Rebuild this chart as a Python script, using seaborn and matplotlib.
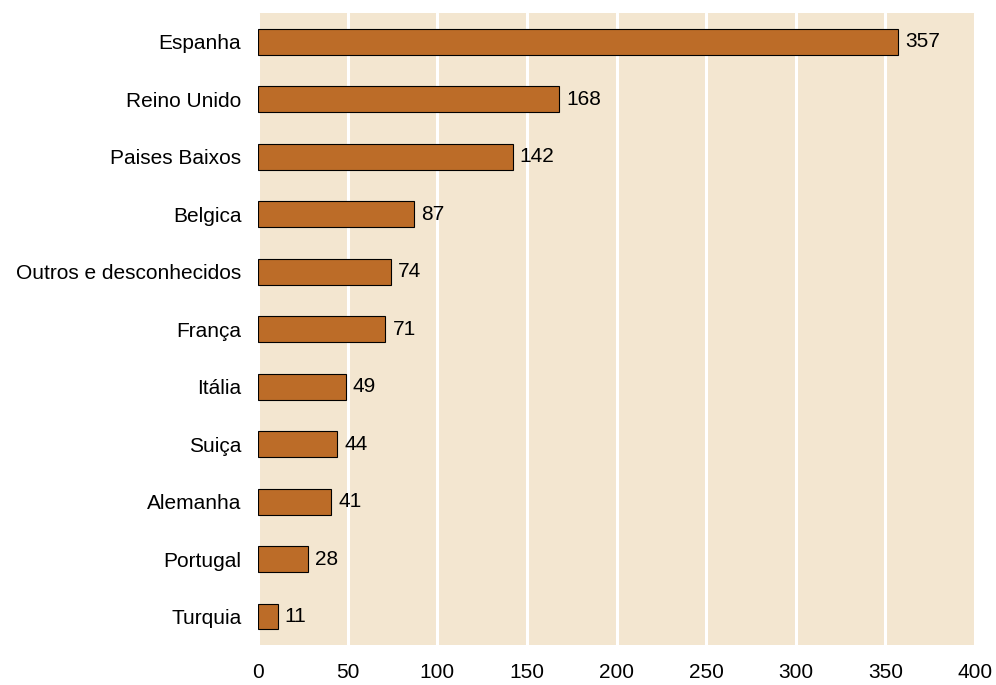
import matplotlib
matplotlib.use("Agg")
import matplotlib.pyplot as plt
import pandas as pd
import seaborn as sns

# Data
countries = ['Espanha', 'Reino Unido', 'Paises Baixos', 'Belgica',
             'Outros e desconhecidos', 'França', 'Itália', 'Suiça',
             'Alemanha', 'Portugal', 'Turquia']
values = [357, 168, 142, 87, 74, 71, 49, 44, 41, 28, 11]
xticks = [0, 50, 100, 150, 200, 250, 300, 350, 400]

df = pd.DataFrame({'País': countries, 'Valor': values})

sns.set_style('white')
plt.rcParams['font.family'] = ['Liberation Sans', 'DejaVu Sans']
plt.rcParams['text.color'] = 'black'
plt.rcParams['xtick.color'] = 'black'
plt.rcParams['ytick.color'] = 'black'

fig = plt.figure(figsize=(9.96, 6.85), dpi=100)
ax = fig.add_axes([0.259, 0.058, 0.72, 0.923])
ax.set_facecolor('#F3E6D0')

sns.barplot(data=df, y='País', x='Valor', order=countries, color='#BC6C28',
            saturation=1, width=0.45, edgecolor='black', linewidth=0.8,
            ax=ax, zorder=3)

for i, v in enumerate(values):
    ax.text(v + 4, i, str(v), va='center', ha='left', fontsize=15,
            color='black', zorder=4)

ax.set_xlim(0, 400)
ax.set_ylim(10.5, -0.5)
ax.set_xticks(xticks)
ax.xaxis.grid(True, color='white', linewidth=2.2, zorder=1)
ax.set_axisbelow(True)
ax.tick_params(axis='both', length=0, labelsize=15, labelcolor='black')
ax.tick_params(axis='x', pad=13)
ax.tick_params(axis='y', pad=12)
ax.set_xlabel('')
ax.set_ylabel('')
for s in ax.spines.values():
    s.set_visible(False)

fig.savefig('out.png', dpi=100)
